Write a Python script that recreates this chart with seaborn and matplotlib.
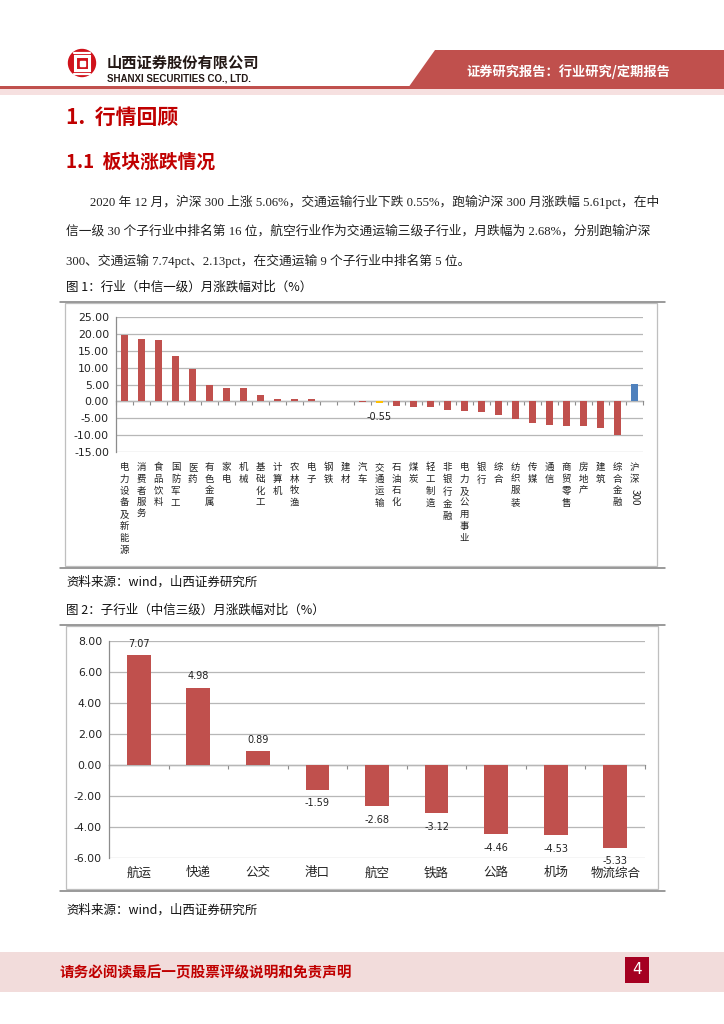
import numpy as np
import pandas as pd
import matplotlib
matplotlib.use('Agg')
import matplotlib.pyplot as plt
import matplotlib.patches as mpatches
import seaborn as sns

# 图1 行业（中信一级）月涨跌幅
ind_names = ['电力设备及新能源', '消费者服务', '食品饮料', '国防军工', '医药', '有色金属',
             '家电', '机械', '基础化工', '计算机', '农林牧渔', '电子', '钢铁', '建材',
             '汽车', '交通运输', '石油石化', '煤炭', '轻工制造', '非银行金融',
             '电力及公用事业', '银行', '综合', '纺织服装', '传媒', '通信', '商贸零售',
             '房地产', '建筑', '综合金融', '沪深300']
ind_values = [19.6, 18.5, 18.2, 13.6, 9.5, 4.8, 3.9, 3.9, 1.8, 0.8, 0.6, 0.6, 0.05, -0.05,
              -0.2, -0.55, -1.4, -1.6, -1.8, -2.6, -3.0, -3.3, -4.0, -5.4, -6.5, -7.2,
              -7.4, -7.4, -8.0, -9.9, 5.06]

# 图2 子行业（中信三级）月涨跌幅
sub_names = ['航运', '快递', '公交', '港口', '航空', '铁路', '公路', '机场', '物流综合']
sub_values = [7.07, 4.98, 0.89, -1.59, -2.68, -3.12, -4.46, -4.53, -5.33]

RED = '#C0504D'
BLUE = '#4F81BD'
YELLOW = '#FFC000'
BRAND = '#C0504D'
TITLE_RED = '#C00000'
GRID = '#B7B7B7'
AXIS = '#8C8C8C'

sns.set_style('white')
CJK = ['Noto Sans CJK SC', 'DejaVu Sans']
SERIF = ['Liberation Serif', 'Noto Sans CJK SC']
plt.rcParams['font.family'] = CJK

W, H = 724, 1024
fig = plt.figure(figsize=(W / 100, H / 100), dpi=100)

# page layer in pixel coords
bg = fig.add_axes([0, 0, 1, 1], zorder=0)
bg.set_xlim(0, W)
bg.set_ylim(H, 0)
bg.axis('off')


def px_axes(x0, y0, x1, y1):
    return fig.add_axes([x0 / W, 1 - y1 / H, (x1 - x0) / W, (y1 - y0) / H], zorder=2)


# ---- header ----
bg.add_patch(mpatches.Circle((82, 63), 13.5, color='#D0121B'))
bg.add_patch(mpatches.Rectangle((75, 56), 14, 14, fill=False, ec='white', lw=2.2))
bg.add_patch(mpatches.Rectangle((79.5, 60.5), 5, 5, color='white'))
bg.plot([74, 90], [52.5, 52.5], color='white', lw=1.6)
bg.plot([74, 90], [73.5, 73.5], color='white', lw=1.6)
bg.text(107, 63, '山西证券股份有限公司', fontsize=11, fontweight='bold', color='#231815',
        va='center', ha='left')
bg.text(107, 78.5, 'SHANXI SECURITIES CO., LTD.', fontsize=7, fontweight='bold',
        family=['Liberation Sans', 'DejaVu Sans'], color='#231815', va='center', ha='left')
bg.add_patch(mpatches.Polygon([(408, 88), (435, 50), (W, 50), (W, 88)], closed=True,
                              color=BRAND, lw=0))
bg.text(568, 72, '证券研究报告：行业研究/定期报告', fontsize=9.5, fontweight='bold',
        color='white', va='center', ha='center')
bg.add_patch(mpatches.Rectangle((0, 86), W, 3, color=BRAND, lw=0))
bg.add_patch(mpatches.Rectangle((0, 89), W, 6, color='#F6E0E0', lw=0))

# ---- headings and text ----
bg.text(66, 117, '1.  行情回顾', fontsize=15, fontweight='bold', color=TITLE_RED,
        va='center', ha='left')
bg.text(66, 162, '1.1  板块涨跌情况', fontsize=13.5, fontweight='bold', color=TITLE_RED,
        va='center', ha='left')

para = [
    (90, 202, '2020 年 12 月，沪深 300 上涨 5.06%，交通运输行业下跌 0.55%，跑输沪深 300 月涨跌幅 5.61pct，在中'),
    (66, 231, '信一级 30 个子行业中排名第 16 位，航空行业作为交通运输三级子行业，月跌幅为 2.68%，分别跑输沪深'),
    (66, 261, '300、交通运输 7.74pct、2.13pct，在交通运输 9 个子行业中排名第 5 位。'),
]
for x, y, s in para:
    bg.text(x, y, s, fontsize=9.2, family=SERIF, color='#222222', va='center', ha='left')

bg.text(66, 287, '图 1：行业（中信一级）月涨跌幅对比（%）', fontsize=9, color='#111111',
        va='center', ha='left')
bg.text(66, 582, '资料来源：wind，山西证券研究所', fontsize=9, color='#111111',
        va='center', ha='left')
bg.text(66, 610, '图 2：子行业（中信三级）月涨跌幅对比（%）', fontsize=9, color='#111111',
        va='center', ha='left')
bg.text(66, 910, '资料来源：wind，山西证券研究所', fontsize=9, color='#111111',
        va='center', ha='left')

# chart frames
for (x0, y0, x1, y1) in [(65, 303, 657, 566), (66, 626, 658, 889)]:
    bg.add_patch(mpatches.Rectangle((x0, y0), x1 - x0, y1 - y0, fill=False,
                                    ec='#BFBFBF', lw=0.9))
    bg.plot([60, 665], [y0 - 1, y0 - 1], color='#7F7F7F', lw=1.1)
    bg.plot([60, 665], [y1 + 1.5, y1 + 1.5], color='#7F7F7F', lw=1.1)

# ---- footer ----
bg.add_patch(mpatches.Rectangle((0, 952), W, 40, color='#F2DCDB', lw=0))
bg.text(60, 972, '请务必阅读最后一页股票评级说明和免责声明', fontsize=10.5,
        fontweight='bold', color=TITLE_RED, va='center', ha='left')
bg.add_patch(mpatches.Rectangle((625, 957), 24, 26, color='#A50021', lw=0))
bg.text(637, 970, '4', fontsize=11, color='white', va='center', ha='center',
        family=['DejaVu Sans'])


def style_axes(ax, ymin, ymax, step, n):
    ax.set_ylim(ymin, ymax)
    ax.set_xlim(-0.5, n - 0.5)
    ax.set_yticks(np.arange(ymin, ymax + step / 2, step))
    ax.yaxis.set_major_formatter(matplotlib.ticker.FormatStrFormatter('%.2f'))
    ax.grid(axis='y', color=GRID, lw=0.9)
    ax.set_axisbelow(True)
    for s in ['top', 'right', 'bottom']:
        ax.spines[s].set_visible(False)
    ax.spines['left'].set_color(AXIS)
    ax.spines['left'].set_linewidth(0.9)
    ax.tick_params(axis='y', length=3, color=AXIS, labelsize=7.8, pad=2,
                   labelfontfamily='DejaVu Sans', labelcolor='#222222')
    ax.set_xlabel('')
    ax.set_ylabel('')
    # zero axis line with category boundary ticks
    zero = ax.secondary_xaxis((0 - ymin) / (ymax - ymin))
    zero.set_xticks(np.arange(n + 1) - 0.5)
    zero.tick_params(length=3, color=AXIS, labelbottom=False, labeltop=False)
    zero.spines['bottom'].set_color(AXIS)
    zero.spines['bottom'].set_linewidth(0.9)
    return zero


# ---- chart 1 ----
df1 = pd.DataFrame({'name': ind_names, 'value': ind_values})
pal1 = {n: RED for n in ind_names}
pal1['交通运输'] = YELLOW
pal1['沪深300'] = BLUE
ax1 = px_axes(116, 317.3, 643, 451.7)
sns.barplot(data=df1, x='name', y='value', hue='name', palette=pal1, legend=False,
            width=0.42, linewidth=0, saturation=1, ax=ax1)
style_axes(ax1, -15, 25, 5, len(ind_names))
labels1 = ['\n'.join(n) if n != '沪深300' else '沪\n深' for n in ind_names]
ax1.set_xticks(range(len(ind_names)))
ax1.set_xticklabels(labels1, fontsize=6.8, linespacing=1.4, va='top', color='#222222')
ax1.tick_params(axis='x', length=0, pad=8)
hs_idx = ind_names.index('沪深300')
ax1.annotate('300', xy=(hs_idx, 0), xycoords=ax1.get_xaxis_transform(),
             xytext=(0, -33), textcoords='offset points', rotation=-90,
             fontsize=7, ha='center', va='center', color='#222222')
jt_idx = ind_names.index('交通运输')
ax1.annotate(f'{ind_values[jt_idx]:.2f}', xy=(jt_idx, ind_values[jt_idx]),
             xytext=(0, -10), textcoords='offset points', ha='center', va='center',
             fontsize=7, family='DejaVu Sans', color='#222222')

# ---- chart 2 ----
df2 = pd.DataFrame({'name': sub_names, 'value': sub_values})
ax2 = px_axes(109, 640.7, 645, 858)
sns.barplot(data=df2, x='name', y='value', color=RED, width=0.4, linewidth=0,
            saturation=1, ax=ax2)
style_axes(ax2, -6, 8, 2, len(sub_names))
ax2.tick_params(axis='x', length=0, pad=6, labelsize=9, labelcolor='#222222')
for i, v in enumerate(sub_values):
    ax2.annotate(f'{v:.2f}', xy=(i, v), xytext=(0, 8 if v > 0 else -10),
                 textcoords='offset points', ha='center', va='center',
                 fontsize=7, family='DejaVu Sans', color='#222222')

fig.savefig('out.png', dpi=100)
